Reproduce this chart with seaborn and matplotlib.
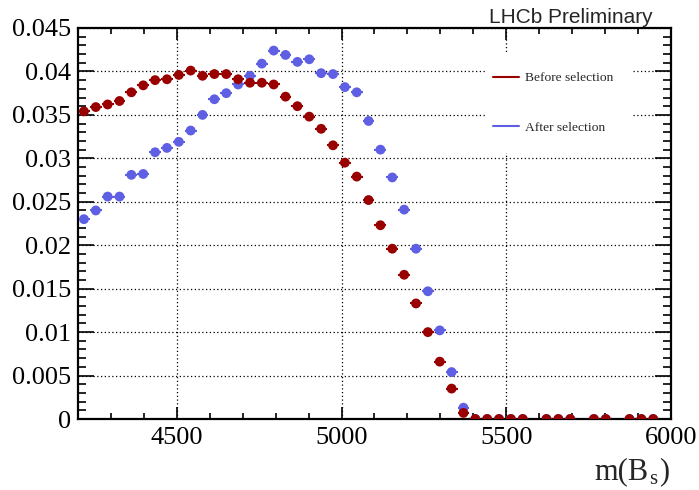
import matplotlib
matplotlib.use("Agg")
import matplotlib.pyplot as plt
import seaborn as sns
import pandas as pd
import numpy as np
from matplotlib.lines import Line2D
from matplotlib.patches import Rectangle
from matplotlib.ticker import FixedLocator, FixedFormatter, MultipleLocator

# bin centres of m(Bs), 36 MeV bins from 4200 to 6000
mass = [4218, 4254, 4290, 4326, 4362, 4398, 4434, 4470, 4506, 4542,
        4578, 4614, 4650, 4686, 4722, 4758, 4794, 4830, 4866, 4902,
        4938, 4974, 5010, 5046, 5082, 5118, 5154, 5190, 5226, 5262,
        5298, 5334, 5370, 5406, 5442, 5478, 5514, 5550, 5586, 5622,
        5658, 5694, 5730, 5766, 5802, 5838, 5874, 5910, 5946, 5982]
bin_half_width = 18

nan = np.nan
before = [0.0354, 0.0359, 0.0362, 0.0366, 0.0376, 0.0384, 0.0390, 0.0391, 0.0396, 0.0401,
          0.0395, 0.0397, 0.0397, 0.0391, 0.0387, 0.0387, 0.0385, 0.0371, 0.0360, 0.0348,
          0.0334, 0.0315, 0.0295, 0.0279, 0.0252, 0.0223, 0.0196, 0.0166, 0.0133, 0.0100,
          0.0066, 0.0035, 0.0007, 0.0, 0.0, 0.0, 0.0, 0.0, nan, 0.0,
          0.0, 0.0, nan, 0.0, 0.0, nan, 0.0, 0.0, 0.0, nan]
after = [0.0230, 0.0240, 0.0256, 0.0256, 0.0281, 0.0282, 0.0307, 0.0312, 0.0319, 0.0332,
         0.0350, 0.0368, 0.0375, 0.0385, 0.0395, 0.0409, 0.0424, 0.0419, 0.0411, 0.0414,
         0.0398, 0.0397, 0.0382, 0.0376, 0.0343, 0.0310, 0.0278, 0.0241, 0.0196, 0.0147,
         0.0102, 0.0054, 0.0013, 0.0, 0.0, 0.0, 0.0, 0.0, nan, 0.0,
         0.0, 0.0, nan, 0.0, 0.0, nan, 0.0, 0.0, 0.0, nan]

y_ticks = [0, 0.005, 0.01, 0.015, 0.02, 0.025, 0.03, 0.035, 0.04, 0.045]
y_labels = ["0", "0.005", "0.01", "0.015", "0.02", "0.025", "0.03", "0.035", "0.04", "0.045"]
x_ticks = [4500, 5000, 5500, 6000]
x_labels = ["4500", "5000", "5500", "6000"]

red = "#990000"
blue = "#5f5fe3"

sns.set_style("ticks")
plt.rcParams["font.family"] = ["Liberation Serif", "DejaVu Serif"]

df = pd.DataFrame({
    "mass": mass + mass,
    "value": after + before,
    "sample": ["After selection"] * len(mass) + ["Before selection"] * len(mass),
})

fig = plt.figure(figsize=(6.99, 4.90), dpi=100)
ax = fig.add_axes([78 / 699, 71 / 490, 593 / 699, 391 / 490])

# horizontal bin-width bars
for name, col in [("After selection", blue), ("Before selection", red)]:
    d = df[df["sample"] == name].dropna()
    ax.errorbar(d["mass"], d["value"], xerr=bin_half_width, fmt="none",
                ecolor=col, elinewidth=1.5, zorder=2)

sns.scatterplot(data=df.dropna(), x="mass", y="value", hue="sample",
                palette={"After selection": blue, "Before selection": red},
                s=50, linewidth=0, ax=ax, legend=False, zorder=3)

ax.set_xlim(4200, 6000)
ax.set_ylim(0, 0.045)
ax.xaxis.set_major_locator(FixedLocator(x_ticks))
ax.xaxis.set_major_formatter(FixedFormatter(x_labels))
ax.xaxis.set_minor_locator(MultipleLocator(100))
ax.yaxis.set_major_locator(FixedLocator(y_ticks))
ax.yaxis.set_major_formatter(FixedFormatter(y_labels))
ax.yaxis.set_minor_locator(MultipleLocator(0.001))

ax.tick_params(axis="both", which="both", direction="in", top=True, right=True,
               width=1.2, colors="black", labelsize=19)
ax.tick_params(axis="x", which="major", length=8.6, pad=6)
ax.tick_params(axis="x", which="minor", length=4.3)
ax.tick_params(axis="y", which="major", length=11.5, pad=5)
ax.tick_params(axis="y", which="minor", length=6)
for sp in ax.spines.values():
    sp.set_linewidth(1.6)
    sp.set_color("black")

ax.grid(True, which="major", color="black", linestyle=(0, (1, 2)), linewidth=0.9)
ax.set_axisbelow(True)

ax.set_xlabel("")
ax.set_ylabel("")

# legend: white box without border, entries placed inside
ax.add_patch(Rectangle((0.686, 0.680), 0.250, 0.258, transform=ax.transAxes,
                       facecolor="white", edgecolor="none", zorder=3.5))
handles = [Line2D([], [], color=red, lw=1.5), Line2D([], [], color=blue, lw=1.5)]
leg = ax.legend(handles, ["Before selection", "After selection"],
                loc="upper left", bbox_to_anchor=(0.700, 0.8875), fontsize=9.7,
                frameon=False, handlelength=1.9, handletextpad=0.45,
                labelspacing=2.75, borderpad=0, borderaxespad=0)
leg.set_zorder(4)

fig.text(653 / 699, 1 - 23 / 490, "LHCb Preliminary", ha="right", va="baseline",
         fontsize=15, family=["Liberation Sans", "DejaVu Sans"])

# axis title m(B_s) with low-set subscript
fig.text(649 / 699, 1 - 479 / 490, "m(B", ha="right", va="baseline", fontsize=22)
fig.text(649 / 699, 1 - 484 / 490, "s", ha="left", va="baseline", fontsize=15)
fig.text(659 / 699, 1 - 479 / 490, ")", ha="left", va="baseline", fontsize=22)

fig.savefig("out.png", dpi=100)
